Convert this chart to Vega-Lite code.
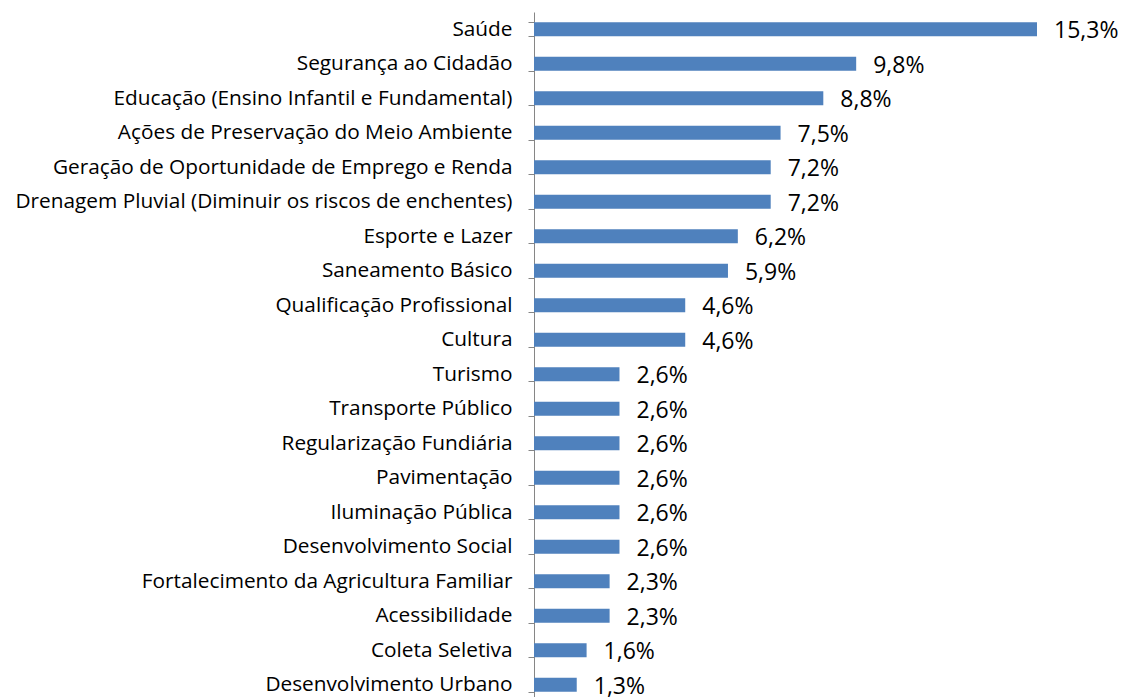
{
  "$schema": "https://vega.github.io/schema/vega-lite/v6.json",
  "autosize": {"type": "none"},
  "width": 503,
  "height": 690,
  "padding": {"left": 534, "top": 12, "right": 86, "bottom": 0},
  "background": "white",
  "config": {"view": {"stroke": null}},
  "data": {"values": [
    {"categoria": "Saúde", "v": 15.3},
    {"categoria": "Segurança ao Cidadão", "v": 9.8},
    {"categoria": "Educação (Ensino Infantil e Fundamental)", "v": 8.8},
    {"categoria": "Ações de Preservação do Meio Ambiente", "v": 7.5},
    {"categoria": "Geração de Oportunidade de Emprego e Renda", "v": 7.2},
    {"categoria": "Drenagem Pluvial (Diminuir os riscos de enchentes)", "v": 7.2},
    {"categoria": "Esporte e Lazer", "v": 6.2},
    {"categoria": "Saneamento Básico", "v": 5.9},
    {"categoria": "Qualificação Profissional", "v": 4.6},
    {"categoria": "Cultura", "v": 4.6},
    {"categoria": "Turismo", "v": 2.6},
    {"categoria": "Transporte Público", "v": 2.6},
    {"categoria": "Regularização Fundiária", "v": 2.6},
    {"categoria": "Pavimentação", "v": 2.6},
    {"categoria": "Iluminação Pública", "v": 2.6},
    {"categoria": "Desenvolvimento Social", "v": 2.6},
    {"categoria": "Fortalecimento da Agricultura Familiar", "v": 2.3},
    {"categoria": "Acessibilidade", "v": 2.3},
    {"categoria": "Coleta Seletiva", "v": 1.6},
    {"categoria": "Desenvolvimento Urbano", "v": 1.3}
  ]},
  "transform": [
    {"calculate": "replace(format(datum.v, '.1f'), '.', ',') + '%'", "as": "rotulo"}
  ],
  "encoding": {
    "y": {
      "field": "categoria", "type": "nominal", "sort": null,
      "scale": {"paddingInner": 0.6, "paddingOuter": 0.3},
      "axis": {
        "title": null, "domainColor": "#868686", "tickColor": "#868686",
        "tickSize": 6, "tickBand": "extent", "labelFont": "Open Sans", "labelFontSize": 20.8,
        "labelColor": "#000000", "labelPadding": 16, "labelLimit": 600, "grid": false
      }
    },
    "x": {
      "field": "v", "type": "quantitative",
      "scale": {"domain": [0, 15.3], "nice": false, "zero": true},
      "axis": null
    }
  },
  "layer": [
    {"mark": {"type": "bar", "color": "#4F81BD"}},
    {
      "mark": {"type": "text", "align": "left", "baseline": "middle", "dx": 17, "dy": 2,
               "font": "Open Sans", "fontSize": 23, "color": "#000000"},
      "encoding": {"text": {"field": "rotulo"}}
    }
  ]
}
